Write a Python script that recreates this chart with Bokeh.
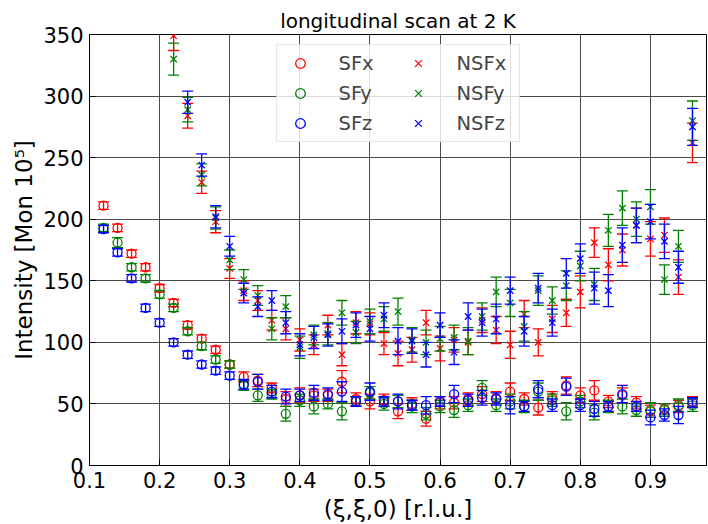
from bokeh.plotting import figure
from bokeh.models import ColumnDataSource, Legend, LegendItem, Range1d
from bokeh.embed import file_html
from bokeh.resources import INLINE

# momentum transfer (xi, xi, 0) [r.l.u.]
q = [0.12, 0.14, 0.16, 0.18, 0.20, 0.22, 0.24, 0.26, 0.28, 0.30,
     0.32, 0.34, 0.36, 0.38, 0.40, 0.42, 0.44, 0.46, 0.48, 0.50,
     0.52, 0.54, 0.56, 0.58, 0.60, 0.62, 0.64, 0.66, 0.68, 0.70,
     0.72, 0.74, 0.76, 0.78, 0.80, 0.82, 0.84, 0.86, 0.88, 0.90,
     0.92, 0.94, 0.96]
q_nsf = q[5:]

# spin-flip channels
sfx = [211, 193, 172, 161, 144, 132, 114, 103, 94, 82,
       72, 69, 63, 54, 57, 57, 57, 68, 54, 52,
       53, 44, 50, 38, 51, 51, 54, 58, 55, 60,
       54, 47, 55, 65, 57, 61, 52, 57, 51, 44,
       46, 48, 52]
sfx_err = [3, 3, 3, 3, 3, 3, 3, 3, 3, 3,
           4, 5, 4, 6, 6, 5, 5, 9, 5, 6,
           5, 6, 5, 6, 5, 5, 5, 6, 5, 7,
           5, 6, 5, 7, 6, 8, 5, 6, 5, 5,
           4, 5, 4]
sfy = [193, 181, 161, 152, 139, 128, 109, 97, 86, 82,
       65, 57, 58, 42, 53, 48, 50, 44, 52, 59,
       50, 52, 48, 42, 48, 45, 49, 63, 49, 52,
       48, 60, 53, 44, 52, 43, 48, 48, 45, 45,
       45, 49, 49]
sfy_err = [3, 4, 3, 3, 3, 3, 3, 3, 3, 3,
           4, 5, 4, 6, 5, 6, 4, 7, 4, 5,
           5, 5, 5, 5, 5, 6, 5, 6, 5, 6,
           5, 7, 5, 7, 5, 6, 5, 6, 5, 6,
           5, 5, 5]
sfz = [192, 173, 152, 128, 116, 100, 90, 82, 77, 73,
       66, 68, 60, 56, 57, 59, 58, 60, 52, 60,
       52, 52, 49, 49, 52, 58, 53, 55, 54, 49,
       48, 62, 49, 64, 49, 46, 48, 58, 48, 39,
       41, 41, 51]
sfz_err = [3, 3, 3, 3, 3, 3, 3, 3, 3, 3,
           4, 6, 5, 6, 5, 6, 5, 8, 4, 7,
           4, 6, 4, 7, 4, 7, 5, 6, 5, 7,
           4, 7, 5, 7, 5, 6, 4, 7, 4, 6,
           5, 7, 4]

# non-spin-flip channels (from 0.22 on)
nsfx = [349, 284, 230, 198, 160, 142, 134, 118, 111, 102,
        98, 114, 90, 116, 115, 99, 91, 94, 116, 95,
        102, 100, 118, 110, 98, 123, 100, 119, 124, 141,
        181, 163, 175, 195, 184, 187, 153, 262]
nsfx_err = [12, 10, 9, 9, 8, 8, 8, 8, 9, 9,
            8, 8, 9, 9, 9, 9, 10, 10, 10, 10,
            10, 10, 10, 11, 11, 11, 11, 11, 11, 13,
            12, 13, 13, 14, 14, 14, 14, 16]
nsfy = [330, 289, 236, 201, 167, 151, 138, 111, 129, 96,
        106, 107, 124, 108, 117, 119, 125, 102, 100, 103,
        104, 101, 121, 141, 132, 113, 142, 134, 146, 162,
        147, 191, 209, 200, 210, 151, 178, 280]
nsfy_err = [13, 10, 9, 9, 8, 8, 8, 9, 9, 9,
            8, 9, 10, 9, 10, 10, 11, 10, 10, 10,
            10, 11, 11, 12, 11, 12, 12, 11, 12, 12,
            13, 13, 14, 14, 14, 12, 13, 16]
nsfz = [365, 295, 244, 202, 178, 140, 129, 134, 116, 98,
        104, 106, 109, 114, 111, 122, 101, 101, 90, 114,
        92, 121, 116, 119, 142, 109, 144, 116, 156, 168,
        144, 142, 179, 195, 198, 182, 161, 275]
nsfz_err = [13, 9, 9, 9, 8, 8, 8, 8, 9, 9,
            9, 9, 10, 10, 10, 10, 11, 10, 10, 10,
            10, 11, 11, 12, 11, 12, 12, 11, 12, 12,
            13, 13, 14, 14, 14, 14, 13, 15]

x_ticks = [0.1, 0.2, 0.3, 0.4, 0.5, 0.6, 0.7, 0.8, 0.9]
y_ticks = [0, 50, 100, 150, 200, 250, 300, 350]

FONT = "DejaVu Sans"

p = figure(width=708, height=524, output_backend="svg", toolbar_location=None,
           x_range=Range1d(0.1, 0.98), y_range=Range1d(0, 350),
           min_border_left=89, min_border_right=2, min_border_top=34,
           min_border_bottom=57, title="longitudinal scan at 2 K",
           background_fill_color="white", border_fill_color="white")

p.title.text_font = FONT
p.title.text_font_size = "20px"
p.title.text_font_style = "normal"
p.title.text_color = "black"
p.title.align = "center"
p.title.standoff = 4

for ax in (p.xaxis, p.yaxis):
    ax.major_label_text_font = FONT
    ax.major_label_text_font_size = "21px"
    ax.major_label_text_color = "black"
    ax.axis_label_text_font = FONT
    ax.axis_label_text_font_size = "23px"
    ax.axis_label_text_font_style = "normal"
    ax.axis_label_text_color = "black"
    ax.major_tick_in = 6
    ax.major_tick_out = 0
    ax.minor_tick_line_color = None
    ax.axis_line_color = "black"
    ax.major_tick_line_color = "black"
    ax.major_label_standoff = 6

p.xaxis.axis_label_standoff = 5
p.yaxis.axis_label_standoff = 3
p.xaxis.ticker = x_ticks
p.yaxis.ticker = y_ticks
p.xaxis.axis_label = "(ξ,ξ,0) [r.l.u.]"
p.yaxis.axis_label = "Intensity [Mon 10⁵]"

p.xgrid.ticker = x_ticks
p.ygrid.ticker = y_ticks
p.grid.grid_line_color = "#4a4a4a"
p.grid.grid_line_width = 1
p.outline_line_color = "black"
p.outline_line_width = 1
p.outline_line_alpha = 1


def series(xs, ys, errs, color, marker):
    src = ColumnDataSource(dict(
        x=xs, y=ys,
        lo=[y - e for y, e in zip(ys, errs)],
        hi=[y + e for y, e in zip(ys, errs)]))
    p.segment(x0="x", y0="lo", x1="x", y1="hi", source=src,
              line_color=color, line_width=1.3)
    p.scatter(x="x", y="lo", source=src, marker="dash", size=11,
              line_color=color, line_width=1.3)
    p.scatter(x="x", y="hi", source=src, marker="dash", size=11,
              line_color=color, line_width=1.3)
    r = p.scatter(x="x", y="y", source=src, marker=marker, size=9,
                  line_color=color, fill_color=None, line_width=1.3)
    return [r]


items = []
items.append(LegendItem(label="SFx", renderers=series(q, sfx, sfx_err, "red", "circle")))
items.append(LegendItem(label="SFy", renderers=series(q, sfy, sfy_err, "green", "circle")))
items.append(LegendItem(label="SFz", renderers=series(q, sfz, sfz_err, "blue", "circle")))
items.append(LegendItem(label="NSFx", renderers=series(q_nsf, nsfx, nsfx_err, "red", "x")))
items.append(LegendItem(label="NSFy", renderers=series(q_nsf, nsfy, nsfy_err, "green", "x")))
items.append(LegendItem(label="NSFz", renderers=series(q_nsf, nsfz, nsfz_err, "blue", "x")))

legend = Legend(items=items, location="top_center", ncols=2,
                label_text_font=FONT, label_text_font_size="19.5px",
                glyph_width=34, glyph_height=24, label_height=24,
                label_width=56, label_standoff=22, spacing=6, padding=6,
                margin=10, border_line_color="#cccccc", border_line_width=1,
                background_fill_color="white", background_fill_alpha=0.8)
p.add_layout(legend, "center")

open("out.html", "w").write(file_html(p, INLINE))
